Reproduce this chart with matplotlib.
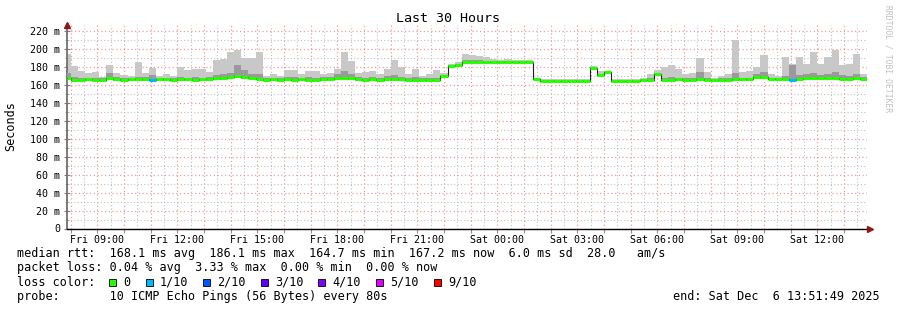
import matplotlib
matplotlib.use("Agg")
import matplotlib.pyplot as plt
from matplotlib.patches import Rectangle
from matplotlib.ticker import FixedLocator, FixedFormatter

# 16 minute bins, bin k starts at Fri 08:00 + 16*k min (k = -1 .. 111)
bin_minutes = 16
start_offset_h = (8 * 60 - (7 * 60 + 51 + 49 / 60)) / 60   # Fri 07:51:49 -> 08:00
span_h = 30
bins = list(range(-1, 112))

median = [
    168, 166, 166, 166.5, 166, 166, 167.5, 166.5, 166, 166.5,
    166.5, 166.5, 166, 167, 166.5, 166, 167, 166.5, 166, 166.5,
    166.5, 167.5, 168, 169, 170, 169, 168.5, 167, 166, 166.5,
    166, 166.5, 166, 166.5, 166, 166, 167, 166.5, 168, 168.5,
    167.5, 166.5, 166, 166.5, 166, 167, 166.5, 166.5, 166, 166,
    166, 166, 166, 170, 181, 183, 186, 186, 186, 185.5,
    186, 186, 186, 186, 186, 186, 167, 165, 165, 165,
    165, 165, 165, 165, 179, 171, 174.5, 165, 165, 165,
    165, 165.5, 166, 172, 166, 166, 166.5, 166, 166, 166.5,
    166, 166, 166, 166, 167, 166.5, 166.5, 169, 169, 167,
    167, 167, 166, 167, 168, 168.5, 168, 168, 168.5, 167,
    167, 168, 167]

smoke_max = [
    195, 181, 176, 174, 175, 169, 183, 174, 171.5, 170,
    186, 174, 179, 170.5, 173, 170.5, 180.5, 176.5, 178, 178,
    175, 188, 189, 196.5, 199.5, 190.5, 190.5, 196.5, 170.5, 173,
    170.5, 177, 176.5, 172, 176, 176, 172, 174, 178, 197,
    187, 174, 175, 176, 172, 178, 188, 180, 172, 178,
    170, 172, 177, 174, 184, 186, 195, 194, 193, 191,
    189, 188, 189, 188, 188, 188, 168.5, 166.5, 166.5, 166.5,
    166.5, 166.5, 166.5, 166.5, 181, 176, 175.5, 167, 167, 167,
    167, 168, 172, 177, 180, 183, 178, 172, 174, 190,
    175, 168, 170, 173, 211, 175, 176, 180, 194, 172,
    170, 192, 184, 192, 184, 197, 184, 192, 199, 183,
    184, 195, 172]

smoke_hi = [
    174, 169, 168, 168, 168, 167.5, 174, 169, 168, 168.5,
    169, 169, 171, 168.5, 168, 168, 169, 168.5, 169, 168.5,
    169, 171, 173, 174, 182, 177, 173, 172, 168, 168,
    168, 169, 169, 168, 169, 168, 169, 169, 172, 176,
    172, 169, 168, 169, 168, 170, 171, 169, 168, 169,
    167.5, 168, 168, 171.5, 182, 184, 188, 188, 188, 187,
    187, 187.5, 187, 187, 187, 187, 167.5, 165.7, 165.7, 165.7,
    165.7, 165.7, 165.7, 165.7, 180, 173, 175, 166, 166, 166,
    166, 166.5, 167.5, 174, 168, 169, 168, 168, 168, 175,
    168, 167, 167.5, 168, 174, 168, 168, 172, 175, 168.5,
    168, 170, 183, 171, 172, 174, 171, 172, 175, 171,
    170, 172, 169]

smoke_min = [
    165.5, 164.5, 164.5, 165, 164.5, 164.5, 165.5, 165, 164.5, 165,
    165, 165, 164.5, 165.5, 165, 164.5, 165.5, 165, 164.5, 165,
    165, 166, 166, 167, 167.5, 167, 166.5, 165.5, 164.5, 165,
    164.5, 165, 164.5, 165, 164.5, 164.5, 165.5, 165, 166.5, 166.5,
    166, 165, 164.5, 165, 164.5, 165.5, 165, 165, 164.5, 164.5,
    164.5, 164.5, 164.5, 168.5, 180, 182, 185, 185, 185, 184.5,
    185, 185, 185, 185, 185, 185, 165.5, 164.5, 164.5, 164.5,
    164.5, 164.5, 164.5, 164.5, 178, 169.5, 174, 164.5, 164.5, 164.5,
    164.5, 164.5, 165, 170.5, 164.5, 164.5, 165, 164.5, 164.5, 165,
    164.5, 164.5, 164.5, 164.5, 165.5, 165, 165, 167, 167, 165.5,
    165.5, 165.5, 164.5, 165.5, 166.5, 166.5, 166.5, 166.5, 166.5, 165.5,
    165.5, 166.5, 165.5]

lossy_bins = [11, 101]
lossy_level = [1, 1]

loss_labels = ["0", "1/10", "2/10", "3/10", "4/10", "5/10", "9/10"]
loss_colors = ["#26ff00", "#00b8ff", "#0059ff", "#5e00ff", "#7e00ff", "#dd00ff", "#ff0000"]

y_ticks = list(range(0, 221, 20))
stats_line = "median rtt:  168.1 ms avg  186.1 ms max  164.7 ms min  167.2 ms now  6.0 ms sd  28.0   am/s"
loss_line = "packet loss: 0.04 % avg  3.33 % max  0.00 % min  0.00 % now"
probe_line = "probe:       10 ICMP Echo Pings (56 Bytes) every 80s"
end_line = "end: Sat Dec  6 13:51:49 2025"

W, H = 897, 310
MONO = "DejaVu Sans Mono"
plt.rcParams["font.family"] = MONO

fig = plt.figure(figsize=(W / 100, H / 100), dpi=100)
fig.patch.set_facecolor("white")


def fx(px):
    return px / W


def fy(py):
    return 1 - py / H


ax = fig.add_axes([fx(67), fy(228.5), 800 / W, (228.5 - 25) / H])
ax.set_xlim(0, span_h)
ax.set_ylim(0, 227.2)

# bin edges (clipped to the visible 30 h)
edges = [min(max(start_offset_h + k * bin_minutes / 60, 0), span_h) for k in bins]
edges.append(span_h)


def ext(v):
    return list(v) + [v[-1]]


ax.fill_between(edges, ext(smoke_min), ext(smoke_max), step="post",
                color="#c8c8c8", lw=0, zorder=2)
ax.fill_between(edges, ext(smoke_min), ext(smoke_hi), step="post",
                color="#9a9a9a", lw=0, zorder=3)
ax.step(edges, ext(median), where="post", color="#202020", lw=0.8, zorder=4)

seg_colors = [loss_colors[0]] * len(bins)
for b, lv in zip(lossy_bins, lossy_level):
    seg_colors[bins.index(b)] = loss_colors[lv]
ax.hlines(median, edges[:-1], edges[1:], colors=seg_colors, lw=2.2, zorder=5)

# grid: red hourly / 20 m, grey half-hourly / 10 m
hours = [start_offset_h + n for n in range(30)]
halves = [start_offset_h + 0.5 + n for n in range(30)]
hour_labels = []
for n in range(30):
    h = 8 + n
    if h % 3 == 0:
        day = "Fri" if h < 24 else "Sat"
        hour_labels.append(f"{day} {h % 24:02d}:00")
    else:
        hour_labels.append("")
ax.xaxis.set_major_locator(FixedLocator(hours))
ax.xaxis.set_major_formatter(FixedFormatter(hour_labels))
ax.xaxis.set_minor_locator(FixedLocator(halves))
ax.yaxis.set_major_locator(FixedLocator(y_ticks))
ax.yaxis.set_major_formatter(FixedFormatter([f"{v} m" if v else "0" for v in y_ticks]))
ax.yaxis.set_minor_locator(FixedLocator(list(range(10, 220, 20))))

ax.grid(which="major", color="#f07878", alpha=0.75, linestyle=(0, (1, 2)), lw=0.9, zorder=0)
ax.grid(which="minor", color="#c0c0c0", linestyle=(0, (1, 2)), lw=0.8, zorder=0)
ax.set_axisbelow(True)

ax.tick_params(axis="x", which="major", length=3, direction="out", color="#909090",
               labelsize=7.2, pad=1.5)
ax.tick_params(axis="x", which="minor", length=0)
ax.tick_params(axis="y", which="major", length=4, direction="inout", color="#808080",
               labelsize=7.2, pad=3)
ax.tick_params(axis="y", which="minor", length=3, direction="inout", color="#a0a0a0")

for s in ("top", "right"):
    ax.spines[s].set_visible(False)
ax.spines["left"].set_color("#707070")
ax.spines["left"].set_linewidth(1.3)
ax.spines["bottom"].set_color("black")
ax.spines["bottom"].set_linewidth(1.0)

# axis arrows
ax.plot([0], [227.2], marker="^", ms=4.5, color="#8b1a1a", clip_on=False, zorder=6)
ax.plot([span_h + 0.1], [0], marker=">", ms=4.5, color="#8b1a1a", clip_on=False, zorder=6)

# title, labels, watermark
fig.text(fx(448), fy(19), "Last 30 Hours", ha="center", va="center", fontsize=9.6)
fig.text(fx(11), fy(126), "Seconds", ha="center", va="center", rotation=90, fontsize=8.5)
fig.text(fx(888), fy(5), "RRDTOOL / TOBI OETIKER", ha="center", va="top",
         rotation=270, fontsize=5.8, color="#c0c0c0")

# legend block
fs = 8.5
fig.text(fx(16.5), fy(254), stats_line, ha="left", va="center", fontsize=fs)
fig.text(fx(16.5), fy(268), loss_line, ha="left", va="center", fontsize=fs)
fig.text(fx(16.5), fy(282), "loss color:", ha="left", va="center", fontsize=fs)
fig.text(fx(16.5), fy(296.5), probe_line, ha="left", va="center", fontsize=fs)
fig.text(fx(880), fy(296.5), end_line, ha="right", va="center", fontsize=fs)

box_x = [109, 146, 203, 261, 318, 376, 434]
for bx, lab, col in zip(box_x, loss_labels, loss_colors):
    fig.patches.append(Rectangle((fx(bx), fy(285.5)), 7 / W, 7 / H, transform=fig.transFigure,
                                 facecolor=col, edgecolor="black", lw=0.6))
    fig.text(fx(bx + 14), fy(282), lab, ha="left", va="center", fontsize=fs)

fig.savefig("out.png", dpi=100, facecolor="white")
